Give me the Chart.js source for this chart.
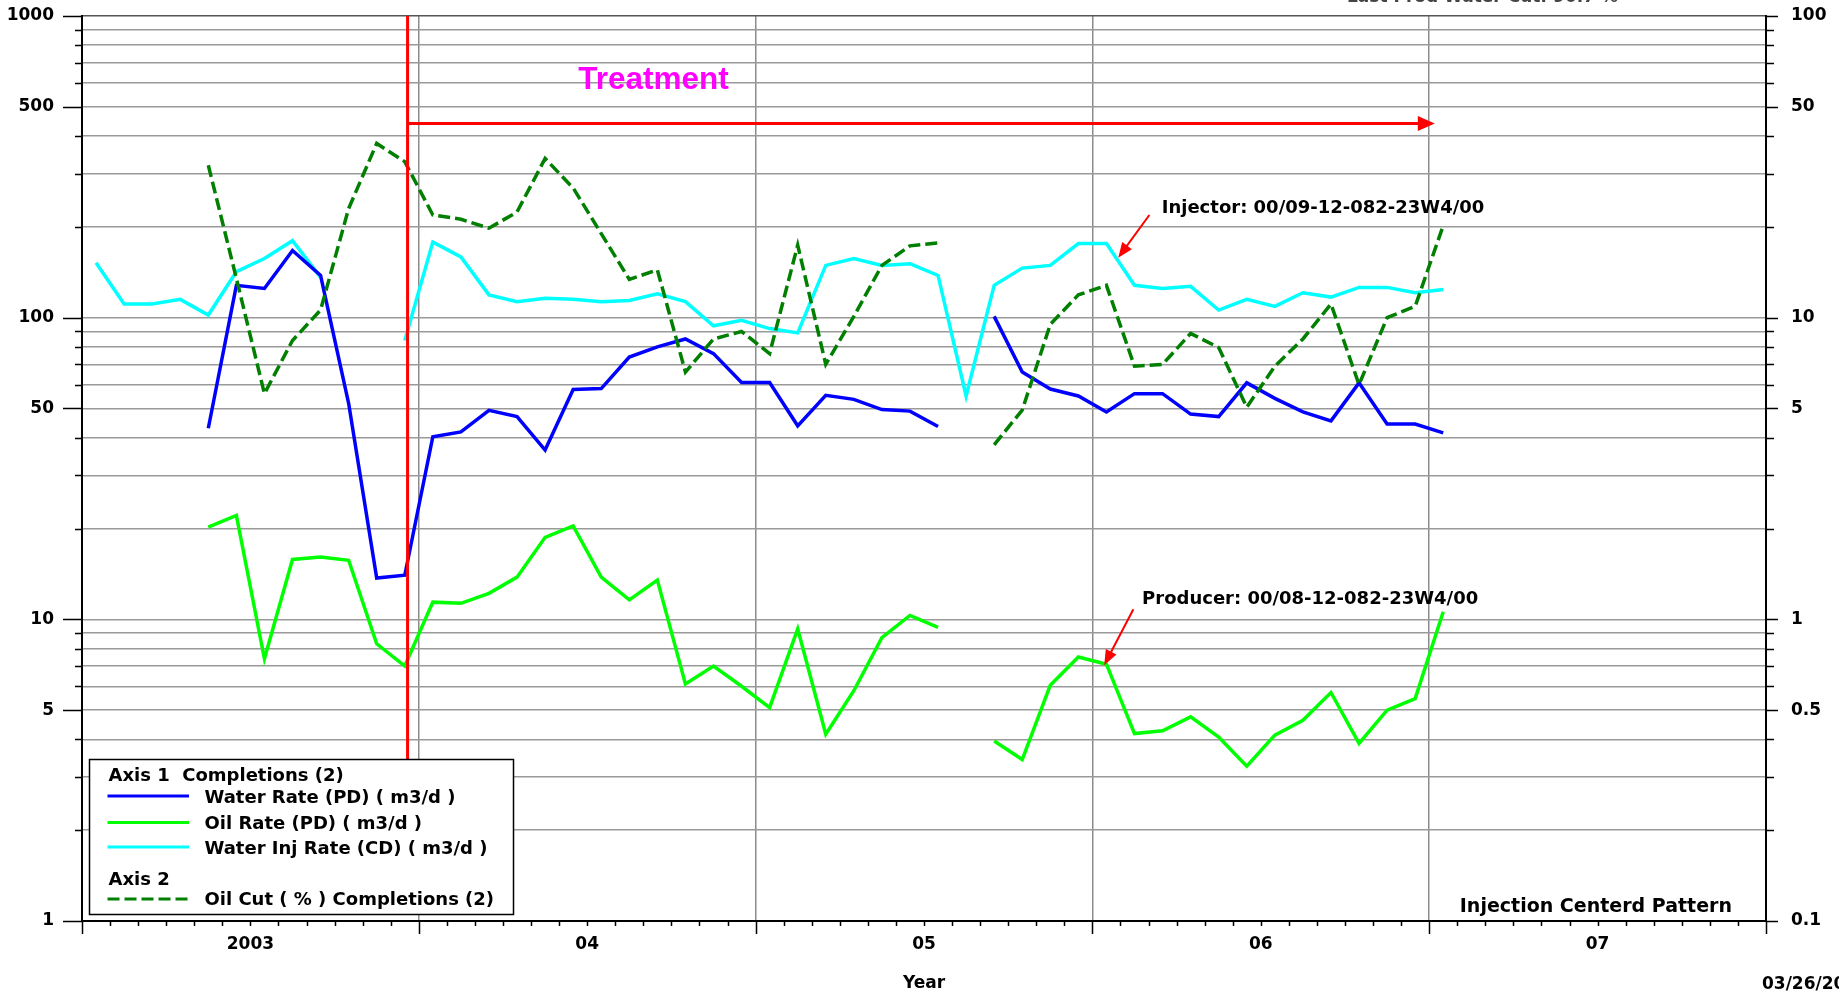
<!DOCTYPE html>
<html>
<head>
<meta charset="utf-8">
<title>Injection Centerd Pattern</title>
<script src="https://cdn.jsdelivr.net/npm/chart.js@4.4.1/dist/chart.umd.min.js"></script>
<style>
  html, body { margin: 0; padding: 0; background: #fff; }
  #wrap { width: 1839px; height: 992px; position: relative; }
</style>
</head>
<body>
<div id="wrap"><canvas id="chart"></canvas></div>
<script>
// Monthly production / injection history (one point per month, plotted mid-month)
const months = [
  '2003-01','2003-02','2003-03','2003-04','2003-05','2003-06','2003-07','2003-08','2003-09','2003-10','2003-11','2003-12',
  '2004-01','2004-02','2004-03','2004-04','2004-05','2004-06','2004-07','2004-08','2004-09','2004-10','2004-11','2004-12',
  '2005-01','2005-02','2005-03','2005-04','2005-05','2005-06','2005-07','2005-08','2005-09','2005-10','2005-11','2005-12',
  '2006-01','2006-02','2006-03','2006-04','2006-05','2006-06','2006-07','2006-08','2006-09','2006-10','2006-11','2006-12',
  '2007-01'
];

// Axis 1 (m3/d)
const waterRate = [null,null,null,null,43,128,125,167,138,52,13.7,14.0,
  40.3,41.8,49.3,47,36.4,57.8,58.2,74,80,85,76,61,
  61,43.8,55.3,53.6,49.6,49,43.6,null,101,66,58,55,
  48.7,56,56,47.9,47,60.8,54,48.7,45.5,60.8,44.4,44.4,
  41.5];
const oilRate = [null,null,null,null,20.2,22.1,7.4,15.8,16.1,15.7,8.3,7.0,
  11.4,11.3,12.2,13.8,18.7,20.4,13.8,11.6,13.5,6.1,7.0,6.0,
  5.1,9.3,4.16,5.8,8.7,10.3,9.4,null,3.95,3.43,6.05,7.5,
  7.1,4.18,4.27,4.75,4.07,3.26,4.13,4.63,5.72,3.88,5.0,5.46,
  10.6];
const waterInjRate = [152,111,111,115,102,142,157,180,136,null,null,84,
  178,159,119,113,116,115,113,114,120,113,94,98,
  92,89,149,157,149,151,138,55,128,146,149,176,
  176,128,125,127,106,115,109,121,117,126,126,121,
  124];
// Axis 2 (%)
const oilCut = [null,null,null,null,32,13.5,5.6,8.4,10.6,23,37.8,32.9,
  21.9,21.2,19.8,22.4,33.7,26.9,19,13.4,14.4,6.6,8.5,9,
  7.6,17.4,7,10.1,14.9,17.3,17.7,null,3.79,4.94,9.5,11.9,
  12.8,6.9,7.0,8.87,7.96,5.05,6.9,8.5,11.1,6.0,10.0,10.9,
  20.2];

// Axis tick values and labels
const leftTicks = [1,2,3,4,5,6,7,8,9,10,20,30,40,50,60,70,80,90,100,200,300,400,500,600,700,800,900,1000];
const leftLabels = [1,5,10,50,100,500,1000];
const rightTicks = [0.1,0.2,0.3,0.4,0.5,0.6,0.7,0.8,0.9,1,2,3,4,5,6,7,8,9,10,20,30,40,50,60,70,80,90,100];
const rightLabels = [0.1,0.5,1,5,10,50,100];
const yearLabels = ['2003','04','05','06','07'];

// Treatment marker (months since Jan 2003, axis-1 values)
const treatmentStart = 11.6;
const treatmentEnd = 48.2;
const treatmentLevel = 440;
const treatmentLineBottom = 3.4;

const FONT = '"DejaVu Sans", "Liberation Sans", sans-serif';
Chart.defaults.font.family = FONT;
Chart.defaults.font.weight = 'bold';
Chart.defaults.font.size = 17;
Chart.defaults.color = '#000';

function monthPos(s) {
  const [yr, mo] = s.split('-').map(Number);
  return (yr - 2003) * 12 + (mo - 1) + 0.5;
}
const xs = months.map(monthPos);
const toPoints = arr => xs.map((x, i) => ({ x, y: arr[i] }));

const GRID = '#9a9a9a';
const CLEAR = 'rgba(0,0,0,0)';

function drawArrowHead(ctx, x1, y1, x2, y2, len, half) {
  const a = Math.atan2(y2 - y1, x2 - x1);
  ctx.beginPath();
  ctx.moveTo(x2, y2);
  ctx.lineTo(x2 - len * Math.cos(a) + half * Math.sin(a), y2 - len * Math.sin(a) - half * Math.cos(a));
  ctx.lineTo(x2 - len * Math.cos(a) - half * Math.sin(a), y2 - len * Math.sin(a) + half * Math.cos(a));
  ctx.closePath();
  ctx.fill();
}

const annotations = {
  id: 'annotations',
  afterDatasetsDraw(chart) {
    const { ctx, scales: { x, y } } = chart;
    ctx.save();
    // treatment line and arrow
    ctx.strokeStyle = '#ff0000';
    ctx.fillStyle = '#ff0000';
    ctx.lineWidth = 3;
    const tx = x.getPixelForValue(treatmentStart);
    ctx.beginPath();
    ctx.moveTo(tx, y.getPixelForValue(1000));
    ctx.lineTo(tx, y.getPixelForValue(treatmentLineBottom));
    ctx.stroke();
    const ay = y.getPixelForValue(treatmentLevel);
    const ax2 = x.getPixelForValue(treatmentEnd);
    ctx.beginPath();
    ctx.moveTo(tx, ay);
    ctx.lineTo(ax2 - 10, ay);
    ctx.stroke();
    drawArrowHead(ctx, tx, ay, ax2, ay, 17, 7.5);

    // pointer arrows
    ctx.lineWidth = 2;
    const pointers = [
      { from: [38.03, 219], to: [36.92, 158] },
      { from: [37.46, 10.8], to: [36.42, 7.05] }
    ];
    pointers.forEach(p => {
      const x1 = x.getPixelForValue(p.from[0]), y1 = y.getPixelForValue(p.from[1]);
      const x2 = x.getPixelForValue(p.to[0]), y2 = y.getPixelForValue(p.to[1]);
      ctx.beginPath();
      ctx.moveTo(x1, y1);
      ctx.lineTo(x2 + (x1 - x2) * 0.2, y2 + (y1 - y2) * 0.2);
      ctx.stroke();
      drawArrowHead(ctx, x1, y1, x2, y2, 15, 6);
    });

    // texts
    ctx.textBaseline = 'alphabetic';
    ctx.textAlign = 'left';
    ctx.fillStyle = '#ff00ff';
    ctx.font = 'bold 31.5px "Liberation Sans", Arial, sans-serif';
    ctx.fillText('Treatment', x.getPixelForValue(17.68), y.getPixelForValue(571));
    ctx.fillStyle = '#000';
    ctx.font = 'bold 18px ' + FONT;
    ctx.fillText('Injector: 00/09-12-082-23W4/00', x.getPixelForValue(38.47), y.getPixelForValue(222.6));
    ctx.fillText('Producer: 00/08-12-082-23W4/00', x.getPixelForValue(37.77), y.getPixelForValue(11.22));
    ctx.font = 'bold 19px ' + FONT;
    ctx.fillText('Injection Centerd Pattern', x.getPixelForValue(49.09), y.getPixelForValue(1.071));
    ctx.restore();
  },
  afterDraw(chart) {
    const { ctx, chartArea: area, scales: { x, y, y2 } } = chart;
    ctx.save();
    // tick marks
    ctx.strokeStyle = '#000';
    ctx.lineWidth = 1.5;
    ctx.beginPath();
    for (let m = 0; m <= 60; m++) {
      const px = Math.round(x.getPixelForValue(m)) + 0.5;
      const len = (m % 12 === 0) ? 13 : 5;
      ctx.moveTo(px, area.bottom);
      ctx.lineTo(px, area.bottom + len);
    }
    leftTicks.forEach(v => {
      const py = Math.round(y.getPixelForValue(v)) + 0.5;
      const len = leftLabels.includes(v) ? 19 : 7;
      ctx.moveTo(area.left - len, py);
      ctx.lineTo(area.left, py);
    });
    rightTicks.forEach(v => {
      const py = Math.round(y2.getPixelForValue(v)) + 0.5;
      const len = rightLabels.includes(v) ? 12 : 8;
      ctx.moveTo(area.right, py);
      ctx.lineTo(area.right + len, py);
    });
    ctx.stroke();

    // legend
    const bx = 89.5, by = 759.5, bw = 424, bh = 155;
    ctx.fillStyle = '#fff';
    ctx.fillRect(bx, by, bw, bh);
    ctx.strokeStyle = '#000';
    ctx.lineWidth = 1.5;
    ctx.strokeRect(bx, by, bw, bh);
    ctx.fillStyle = '#000';
    ctx.font = 'bold 18px ' + FONT;
    ctx.textBaseline = 'alphabetic';
    ctx.textAlign = 'left';
    ctx.fillText('Axis 1  Completions (2)', 108.5, 781);
    ctx.fillText('Axis 2', 108.5, 884.5);
    const rows = [
      { ds: 0, line: 796, text: 802.5 },
      { ds: 1, line: 822.5, text: 828.5 },
      { ds: 2, line: 847, text: 853.5 },
      { ds: 3, line: 899, text: 905 }
    ];
    rows.forEach(r => {
      const d = chart.data.datasets[r.ds];
      ctx.strokeStyle = d.borderColor;
      ctx.lineWidth = 3;
      ctx.setLineDash(d.borderDash || []);
      ctx.beginPath();
      ctx.moveTo(107.5, r.line);
      ctx.lineTo(189, r.line);
      ctx.stroke();
      ctx.setLineDash([]);
      ctx.fillStyle = '#000';
      ctx.fillText(d.label, 204.5, r.text);
    });

    // header and footer
    ctx.font = 'bold 17px ' + FONT;
    ctx.fillStyle = '#444';
    ctx.fillText('Last Prod Water Cut: 90.7 %', 1347, 2);
    ctx.fillStyle = '#000';
    ctx.fillText('03/26/2008', 1762, 988.5);
    ctx.restore();
  }
};

new Chart(document.getElementById('chart'), {
  type: 'line',
  data: {
    datasets: [
      { label: 'Water Rate (PD) ( m3/d )', data: toPoints(waterRate), yAxisID: 'y',
        borderColor: '#0000ff', borderWidth: 3.5, order: 2 },
      { label: 'Oil Rate (PD) ( m3/d )', data: toPoints(oilRate), yAxisID: 'y',
        borderColor: '#00ff00', borderWidth: 3.5, order: 1 },
      { label: 'Water Inj Rate (CD) ( m3/d )', data: toPoints(waterInjRate), yAxisID: 'y',
        borderColor: '#00ffff', borderWidth: 3.5, order: 3 },
      { label: 'Oil Cut ( % ) Completions (2)', data: toPoints(oilCut), yAxisID: 'y2',
        borderColor: '#007f00', borderWidth: 3.5, borderDash: [12, 5], order: 0 }
    ]
  },
  options: {
    responsive: true,
    maintainAspectRatio: false,
    animation: false,
    spanGaps: false,
    elements: { point: { radius: 0, hoverRadius: 0 }, line: { tension: 0, fill: false } },
    layout: { padding: { top: 16, left: 0, right: 0, bottom: 0 } },
    plugins: { legend: { display: false }, tooltip: { enabled: false } },
    scales: {
      x: {
        type: 'linear', min: 0, max: 60,
        afterBuildTicks: s => {
          const t = [];
          for (let m = 0; m <= 60; m++) t.push({ value: m });
          s.ticks = t;
        },
        afterFit: s => { s.height = 71; },
        ticks: {
          autoSkip: false, maxRotation: 0, minRotation: 0, padding: 13,
          callback: v => (v % 12 === 6 ? yearLabels[(v - 6) / 12] : '')
        },
        grid: {
          drawTicks: false, lineWidth: 1.5,
          color: c => (c.tick && c.tick.value % 12 === 0 && c.tick.value > 0 && c.tick.value < 60) ? '#8c8c8c' : CLEAR
        },
        border: { color: '#000', width: 2 },
        title: { display: true, text: 'Year', font: { size: 17, weight: 'bold', lineHeight: 1.0 }, padding: { top: 0, bottom: 0.2 } }
      },
      y: {
        type: 'logarithmic', position: 'left', min: 1, max: 1000,
        afterBuildTicks: s => { s.ticks = leftTicks.map(v => ({ value: v })); },
        afterFit: s => { s.width = 82; },
        ticks: {
          autoSkip: false, padding: 0,
          callback: v => (leftLabels.includes(v) ? String(v) : '')
        },
        grid: {
          drawTicks: true, tickLength: 28, tickColor: CLEAR, lineWidth: 1.5,
          color: c => (c.tick && c.tick.value === 1000) ? '#555' : (c.tick && c.tick.value === 1 ? CLEAR : GRID)
        },
        border: { color: '#000', width: 2 }
      },
      y2: {
        type: 'logarithmic', position: 'right', min: 0.1, max: 100,
        afterBuildTicks: s => { s.ticks = rightTicks.map(v => ({ value: v })); },
        afterFit: s => { s.width = 73; },
        ticks: {
          autoSkip: false, padding: 0,
          callback: v => (rightLabels.includes(v) ? String(v) : '')
        },
        grid: { drawTicks: true, tickLength: 25, tickColor: CLEAR, drawOnChartArea: false },
        border: { color: '#000', width: 2 }
      }
    }
  },
  plugins: [annotations]
});
</script>
</body>
</html>
